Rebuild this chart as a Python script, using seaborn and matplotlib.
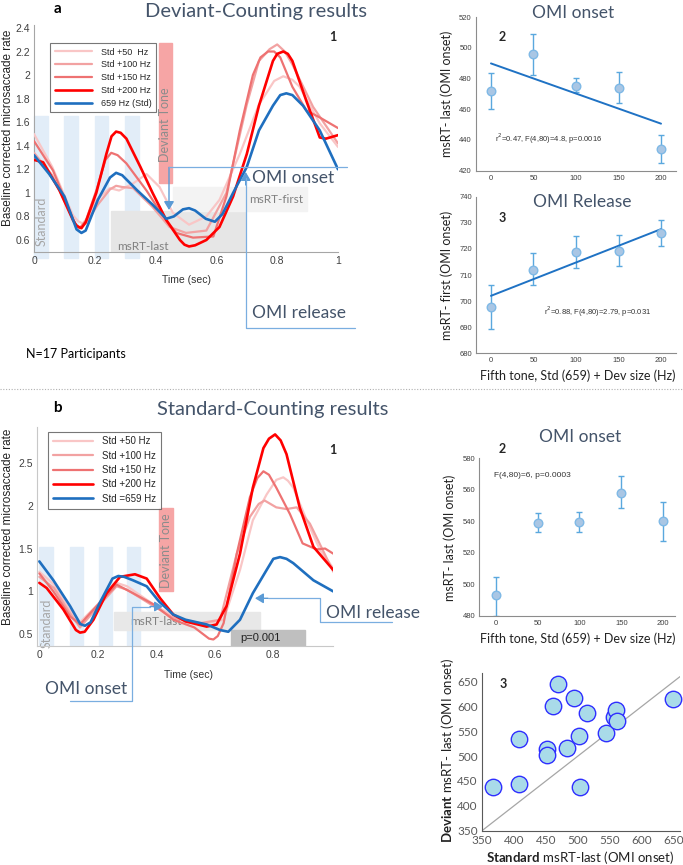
import numpy as np
import pandas as pd
import matplotlib
matplotlib.use("Agg")
import matplotlib.pyplot as plt
import seaborn as sns
from matplotlib.lines import Line2D
from matplotlib.patches import Rectangle
from matplotlib.ticker import FormatStrFormatter

# ---------------- data ----------------
conditions = ["Std +50  Hz", "Std +100 Hz", "Std +150 Hz", "Std +200 Hz", "659 Hz (Std)"]
conditions_b = ["Std +50 Hz", "Std +100 Hz", "Std +150 Hz", "Std +200 Hz", "Std =659 Hz"]

# Panel a1 - Deviant counting, baseline-corrected microsaccade rate
a_std50_t = [0, 0.06, 0.128, 0.145, 0.16, 0.18, 0.205, 0.25, 0.28, 0.326, 0.37, 0.413, 0.457, 0.51, 0.567, 0.61, 0.677, 0.74, 0.79, 0.82, 0.85, 0.874, 0.94, 1.0]
a_std50_y = [1.50, 1.22, 0.81, 0.76, 0.74, 0.80, 0.94, 1.04, 1.02, 1.08, 1.16, 1.05, 0.83, 0.73, 0.80, 0.94, 1.33, 1.75, 1.95, 1.99, 1.96, 1.90, 1.59, 1.39]
a_std100_t = [0, 0.06, 0.135, 0.15, 0.17, 0.21, 0.25, 0.27, 0.29, 0.326, 0.39, 0.446, 0.5, 0.567, 0.633, 0.70, 0.74, 0.775, 0.80, 0.825, 0.85, 0.918, 1.0]
a_std100_y = [1.34, 1.15, 0.74, 0.70, 0.74, 0.90, 1.03, 1.06, 1.05, 1.04, 0.88, 0.71, 0.66, 0.68, 1.0, 1.75, 2.12, 2.22, 2.26, 2.2, 2.09, 1.73, 1.42]
a_std150_t = [0, 0.0625, 0.117, 0.135, 0.15, 0.17, 0.205, 0.235, 0.254, 0.275, 0.304, 0.37, 0.425, 0.468, 0.523, 0.59, 0.633, 0.677, 0.72, 0.745, 0.77, 0.79, 0.81, 0.85, 0.896, 0.94, 1.0]
a_std150_y = [1.44, 1.19, 0.85, 0.74, 0.70, 0.76, 1.02, 1.28, 1.34, 1.32, 1.25, 1.02, 0.80, 0.66, 0.62, 0.63, 0.97, 1.53, 2.0, 2.15, 2.2, 2.2, 2.15, 1.9, 1.70, 1.64, 1.55]
a_std200_t = [0, 0.03, 0.084, 0.128, 0.14, 0.156, 0.17, 0.205, 0.238, 0.255, 0.27, 0.285, 0.304, 0.35, 0.39, 0.435, 0.48, 0.495, 0.51, 0.53, 0.567, 0.61, 0.655, 0.70, 0.74, 0.786, 0.80, 0.82, 0.835, 0.85, 0.896, 0.94, 0.96, 1.0]
a_std200_y = [1.28, 1.26, 1.02, 0.77, 0.72, 0.70, 0.75, 1.0, 1.33, 1.48, 1.52, 1.51, 1.46, 1.22, 1.0, 0.77, 0.60, 0.56, 0.545, 0.555, 0.60, 0.71, 0.97, 1.33, 1.74, 2.12, 2.18, 2.2, 2.18, 2.12, 1.78, 1.47, 1.46, 1.49]
a_std_t = [0, 0.05, 0.10, 0.14, 0.156, 0.17, 0.21, 0.25, 0.27, 0.29, 0.34, 0.39, 0.435, 0.46, 0.49, 0.51, 0.53, 0.565, 0.595, 0.62, 0.655, 0.70, 0.74, 0.786, 0.81, 0.83, 0.85, 0.885, 0.94, 1.0]
a_std_y = [1.32, 1.16, 0.97, 0.69, 0.66, 0.68, 0.94, 1.13, 1.17, 1.15, 1.02, 0.90, 0.78, 0.80, 0.86, 0.87, 0.85, 0.78, 0.755, 0.82, 1.0, 1.22, 1.53, 1.74, 1.83, 1.845, 1.83, 1.74, 1.53, 1.2]

# Panel b1 - Standard counting
b_std50_t = [0, 0.05, 0.10, 0.139, 0.2, 0.264, 0.30, 0.39, 0.458, 0.55, 0.63, 0.686, 0.73, 0.777, 0.81, 0.834, 0.85, 0.868, 0.914, 0.96, 1.005]
b_std50_y = [1.23, 1.08, 0.80, 0.64, 0.85, 1.10, 1.06, 0.85, 0.71, 0.615, 0.67, 1.25, 1.83, 2.13, 2.30, 2.33, 2.29, 2.21, 1.83, 1.48, 1.27]
b_std100_t = [0, 0.05, 0.10, 0.139, 0.2, 0.264, 0.30, 0.39, 0.458, 0.55, 0.618, 0.675, 0.72, 0.75, 0.77, 0.79, 0.81, 0.845, 0.88, 0.925, 1.005]
b_std100_y = [1.17, 1.04, 0.77, 0.58, 0.82, 1.06, 1.02, 0.83, 0.69, 0.63, 0.67, 1.44, 1.87, 2.02, 2.06, 2.02, 1.98, 1.96, 1.98, 1.79, 1.23]
b_std150_t = [0, 0.048, 0.105, 0.139, 0.196, 0.264, 0.32, 0.39, 0.458, 0.53, 0.58, 0.595, 0.61, 0.63, 0.675, 0.72, 0.745, 0.766, 0.785, 0.81, 0.857, 0.90, 0.948, 0.977, 1.005]
b_std150_y = [1.21, 1.0, 0.71, 0.615, 0.83, 1.08, 0.98, 0.85, 0.67, 0.58, 0.45, 0.44, 0.48, 0.63, 1.44, 2.1, 2.32, 2.40, 2.36, 2.21, 1.90, 1.56, 1.49, 1.5, 1.44]
b_std200_t = [0, 0.025, 0.082, 0.125, 0.139, 0.155, 0.185, 0.23, 0.276, 0.327, 0.367, 0.413, 0.458, 0.50, 0.572, 0.606, 0.64, 0.686, 0.73, 0.766, 0.785, 0.806, 0.825, 0.845, 0.89, 0.937, 1.005]
b_std200_y = [1.10, 1.04, 0.79, 0.55, 0.52, 0.53, 0.67, 0.98, 1.17, 1.20, 1.15, 0.92, 0.73, 0.65, 0.59, 0.615, 0.83, 1.44, 2.21, 2.67, 2.78, 2.83, 2.76, 2.60, 1.98, 1.52, 1.25]
b_std_t = [0, 0.048, 0.105, 0.14, 0.156, 0.175, 0.207, 0.25, 0.27, 0.29, 0.32, 0.367, 0.41, 0.458, 0.50, 0.572, 0.618, 0.646, 0.686, 0.73, 0.777, 0.80, 0.823, 0.845, 0.868, 0.937, 1.005]
b_std_y = [1.35, 1.13, 0.83, 0.62, 0.60, 0.64, 0.87, 1.15, 1.18, 1.17, 1.13, 1.06, 0.88, 0.73, 0.67, 0.615, 0.55, 0.53, 0.67, 0.98, 1.25, 1.38, 1.40, 1.38, 1.33, 1.13, 1.0]

# tone timing (sec)
std_tone_onsets_a = [0.0, 0.10, 0.20, 0.30]
std_tone_onsets_b = [0.0, 0.105, 0.205, 0.30]
tone_dur = 0.045
dev_tone_onset = 0.41

# Dev size (Hz) panels
dev_size = [0, 50, 100, 150, 200]
a2_mean = [472, 496, 475, 474, 434]
a2_low = [460, 482, 471, 464, 425]
a2_high = [483.5, 509, 480, 484, 443]
a3_mean = [697.7, 712, 719, 719.3, 726]
a3_low = [689.5, 706, 712.5, 713.3, 721]
a3_high = [706, 718.3, 725, 725.5, 731]
b2_mean = [493, 539, 539.5, 558, 540.5]
b2_low = [480, 533, 533.5, 548.5, 527.5]
b2_high = [505, 545, 546, 568.5, 552.5]

# Panel b3 - per participant OMI onset
standard_msrt = [366.7, 407.4, 407.9, 461, 469.5, 494.5, 513.8, 451.2, 451.7, 483, 501.3, 502.8, 544.6, 557.1, 559.7, 561.3, 649.4]
deviant_msrt = [437.2, 534.6, 444, 601, 645, 617.8, 586, 513.8, 501.7, 515.8, 540.6, 438, 547.3, 579.5, 593, 570.8, 615.1]

# ---------------- style ----------------
W, H = 683, 865
sns.set_theme(style="white")
plt.rcParams["font.family"] = ["Liberation Sans", "DejaVu Sans"]
plt.rcParams["mathtext.fontset"] = "custom"
plt.rcParams["mathtext.rm"] = "Lato"
plt.rcParams["mathtext.bf"] = "Lato:bold"

line_colors = ["#f9c6c6", "#f2a2a2", "#ee7272", "#ff0000", "#1f6fbf"]
line_widths = [1.6, 1.6, 1.6, 1.9, 1.9]
title_col = "#44546a"
ann_col = "#7aaee0"
arrow_col = "#5b9bd5"
TICK_COL = "#404040"
CAL = ["Lato", "DejaVu Sans"]

fig = plt.figure(figsize=(W / 100, H / 100), dpi=100)
fig.patch.set_facecolor("white")


def add_ax(l, t, r, b):
    ax = fig.add_axes([l / W, 1 - b / H, (r - l) / W, (b - t) / H])
    ax.set_facecolor("white")
    return ax


def fp(x, y):
    return (x / W, 1 - y / H)


def ftext(x, y, s, **kw):
    fig.text(x / W, 1 - y / H, s, **kw)


def fline(xs, ys, **kw):
    fig.add_artist(Line2D([x / W for x in xs], [1 - y / H for y in ys], **kw))


def farrow(x0, y0, x1, y1):
    fig.add_artist(matplotlib.patches.FancyArrowPatch(
        fp(x0, y0), fp(x1, y1), transform=fig.transFigure,
        arrowstyle="-|>,head_length=5,head_width=3", color=arrow_col,
        lw=1.0, shrinkA=0, shrinkB=0))


def style_axes(ax, spine_col="#a6a6a6", size=7.5):
    for s in ["top", "right"]:
        ax.spines[s].set_visible(False)
    for s in ["left", "bottom"]:
        ax.spines[s].set_color(spine_col)
        ax.spines[s].set_linewidth(0.8)
    ax.tick_params(direction="in", length=3, width=0.6, colors=spine_col,
                   labelcolor=TICK_COL, labelsize=size, pad=3)


def set_label_px(ax, box, which, px, py):
    l, t, r, b = box
    xc = (px - l) / (r - l)
    yc = (b - py) / (b - t)
    if which == "x":
        ax.xaxis.set_label_coords(xc, yc)
    else:
        ax.yaxis.set_label_coords(xc, yc)


def draw_curves(ax, series, labels):
    for (t, y), lab, c, lw in zip(series, labels, line_colors, line_widths):
        df = pd.DataFrame({"time": t, "rate": y})
        sns.lineplot(data=df, x="time", y="rate", color=c, lw=lw, label=lab,
                     ax=ax, sort=False, zorder=3, solid_joinstyle="round",
                     solid_capstyle="round")


# ================= Panel a1 =================
box_a1 = (34, 25, 338, 252)
ax = add_ax(*box_a1)
ax.set_xlim(0, 1)
ax.set_ylim(0.498, 2.425)
for on in std_tone_onsets_a:
    ax.add_patch(Rectangle((on, 0.45), tone_dur, 1.65 - 0.45, color="#e2edf8", zorder=0, clip_on=False))
ax.add_patch(Rectangle((0.253, 0.498), 0.695 - 0.253, 0.85 - 0.498, color="#e6e6e6", zorder=0.5))
ax.add_patch(Rectangle((0.458, 0.85), 0.898 - 0.458, 1.053 - 0.85, color="#f3f3f3", zorder=0.5))
ax.add_patch(Rectangle((dev_tone_onset, 1.087), tone_dur, 2.27 - 1.087, color="#f6a5a5", zorder=1))
ax.text(0.432, 1.58, "Deviant Tone", rotation=90, ha="center", va="center", fontsize=9, color="#8c8c8c", family=CAL, zorder=2)
ax.text(0.024, 0.755, "Standard", rotation=90, ha="center", va="center", fontsize=9, color="#a6a6a6", family=CAL, zorder=2)
ax.text(0.357, 0.545, "msRT-last", ha="center", va="center", fontsize=8.5, color="#808080", family=CAL, zorder=2)
ax.text(0.798, 0.94, "msRT-first", ha="center", va="center", fontsize=8.5, color="#808080", family=CAL, zorder=2)
draw_curves(ax, [(a_std50_t, a_std50_y), (a_std100_t, a_std100_y), (a_std150_t, a_std150_y),
                 (a_std200_t, a_std200_y), (a_std_t, a_std_y)], conditions)
style_axes(ax, size=7.5)
ax.set_xticks([0, 0.2, 0.4, 0.6, 0.8, 1])
ax.set_yticks(np.arange(0.6, 2.41, 0.2))
ax.xaxis.set_major_formatter(FormatStrFormatter("%g"))
ax.yaxis.set_major_formatter(matplotlib.ticker.FuncFormatter(lambda v, p: f"{round(v, 1):g}"))
ax.set_xlabel("Time (sec)", fontsize=7.5, color="#333333", va="center")
ax.set_ylabel("Baseline corrected microsaccade rate", fontsize=8.5, color="#222222", va="center")
set_label_px(ax, box_a1, "x", 186, 280)
set_label_px(ax, box_a1, "y", 8, 128)
leg = ax.legend(loc="upper left", bbox_to_anchor=((50 - 34) / 304, (252 - 43) / 227),
                fontsize=6.5, frameon=True, fancybox=False, handlelength=4.2,
                labelspacing=0.42, borderpad=0.5, handletextpad=0.9, borderaxespad=0)
leg.get_frame().set_edgecolor("#555555")
leg.get_frame().set_linewidth(0.8)
leg.set_zorder(5)

# annotations panel a
fline([169, 347], [167.3, 167.3], color=ann_col, lw=0.9)
farrow(169, 167.3, 169, 210)
fline([245.7, 245.7, 355], [178, 328, 328], color=ann_col, lw=0.9)
farrow(245.7, 185, 245.7, 172)
ftext(252, 178, "OMI onset", fontsize=12.5, color=title_col, family=CAL, va="center", ha="left")
ftext(252, 313, "OMI release", fontsize=12.5, color=title_col, family=CAL, va="center", ha="left")
ftext(57, 9, "a", fontsize=11, weight="bold", family=CAL, va="center", ha="center", color="black")
ftext(256, 12, "Deviant-Counting results", fontsize=14.5, color=title_col, family=CAL, va="center", ha="center")
ftext(333, 37, "1", fontsize=9, weight="bold", family=CAL, va="center", ha="center")
ftext(26, 354, "N=17 Participants", fontsize=9, family=CAL, va="center", ha="left", color="black")


def dev_panel(box, mean, low, high, ylim, yticks, xlim, ylabel, reg=True):
    ax = add_ax(*box)
    ax.set_xlim(*xlim)
    ax.set_ylim(*ylim)
    m = np.array(mean)
    yerr = [m - np.array(low), np.array(high) - m]
    ax.errorbar(dev_size, mean, yerr=yerr, fmt="none", ecolor="#5aa8de", elinewidth=1.0,
                capsize=2.5, capthick=1.0, zorder=2)
    if reg:
        sns.regplot(x=np.array(dev_size, float), y=m, ci=None, scatter=False, truncate=True,
                    ax=ax, line_kws=dict(color="#1f72c4", lw=1.4, zorder=3))
    sns.scatterplot(x=dev_size, y=mean, s=38, color="#a9c6e4", edgecolor="#7fb9e6",
                    linewidth=1.0, ax=ax, zorder=4)
    style_axes(ax, spine_col="#8c8c8c", size=5.5)
    ax.set_xticks(dev_size)
    ax.set_yticks(yticks)
    ax.set_ylabel(ylabel, fontsize=9, color="#222222", family=CAL, va="center")
    ax.set_xlabel("")
    return ax


# ================= Panel a2 =================
box_a2 = (476, 17, 676, 170.7)
ax = dev_panel(box_a2, a2_mean, a2_low, a2_high, (420, 520), np.arange(420, 521, 20), (-17.6, 217.6),
               "msRT- last (OMI onset)")
set_label_px(ax, box_a2, "y", 447, 94)
ax.text(5, 441, "r$^2$=0.47, F(4,80)=4.8, p=0.0016", fontsize=5.5, color="#333333", va="center",
        math_fontfamily="dejavusans")
ftext(502, 37, "2", fontsize=9, weight="bold", family=CAL, va="center", ha="center")
ftext(573, 13, "OMI onset", fontsize=12.5, color=title_col, family=CAL, va="center", ha="center")

# ================= Panel a3 =================
box_a3 = (476, 196.7, 676, 353.3)
ax = dev_panel(box_a3, a3_mean, a3_low, a3_high, (680, 740), np.arange(680, 741, 10), (-17.6, 217.6),
               "msRT- first (OMI onset)")
set_label_px(ax, box_a3, "y", 447, 275)
ax.set_xlabel("Fifth tone, Std (659) + Dev size (Hz)", fontsize=9, color="#222222", family=CAL, va="center")
set_label_px(ax, box_a3, "x", 578, 376)
ax.text(62, 696, "r$^2$=0.88, F(4,80)=2.79, p=0.031", fontsize=5.5, color="#333333", va="center",
        math_fontfamily="dejavusans")
ftext(502, 218, "3", fontsize=9, weight="bold", family=CAL, va="center", ha="center")
ftext(582, 202, "OMI Release", fontsize=12.5, color=title_col, family=CAL, va="center", ha="center")

# separator
fline([0, W], [389, 389], color="#b0b0b0", lw=0.8, ls=(0, (1, 1.5)))

# ================= Panel b1 =================
box_b1 = (37.3, 426.7, 333.3, 646)
ax = add_ax(*box_b1)
ax.set_xlim(-0.007, 1.005)
ax.set_ylim(0.364, 2.92)
for on in std_tone_onsets_b:
    ax.add_patch(Rectangle((on, 0.364), tone_dur, 1.52 - 0.364, color="#e2edf8", zorder=0))
ax.add_patch(Rectangle((0.256, 0.55), 0.754 - 0.256, 0.76 - 0.55, color="#e8e8e8", zorder=0.5))
ax.add_patch(Rectangle((0.654, 0.364), 0.908 - 0.654, 0.546 - 0.364, color="#bfbfbf", zorder=0.5))
ax.add_patch(Rectangle((dev_tone_onset, 1.0), 0.046, 1.97 - 1.0, color="#f6a5a5", zorder=1))
ax.text(0.433, 1.48, "Deviant Tone", rotation=90, ha="center", va="center", fontsize=9, color="#8c8c8c", family=CAL, zorder=2)
ax.text(0.026, 0.63, "Standard", rotation=90, ha="center", va="center", fontsize=9, color="#a6a6a6", family=CAL, zorder=2)
ax.text(0.40, 0.655, "msRT-last", ha="center", va="center", fontsize=8.5, color="#808080", family=CAL, zorder=2)
ax.text(0.755, 0.453, "p=0.001", ha="center", va="center", fontsize=8, color="#222222", zorder=2)
draw_curves(ax, [(b_std50_t, b_std50_y), (b_std100_t, b_std100_y), (b_std150_t, b_std150_y),
                 (b_std200_t, b_std200_y), (b_std_t, b_std_y)], conditions_b)
style_axes(ax, spine_col="#c8c8c8", size=7.5)
ax.set_xticks([0, 0.2, 0.4, 0.6, 0.8])
ax.set_yticks([0.5, 1, 1.5, 2, 2.5])
ax.xaxis.set_major_formatter(FormatStrFormatter("%g"))
ax.yaxis.set_major_formatter(FormatStrFormatter("%g"))
ax.set_xlabel("Time (sec)", fontsize=7.5, color="#333333", va="center")
ax.set_ylabel("Baseline corrected microsaccade rate", fontsize=8.5, color="#222222", va="center")
set_label_px(ax, box_b1, "x", 188, 675)
set_label_px(ax, box_b1, "y", 8, 527)
leg = ax.legend(loc="upper left", bbox_to_anchor=((47.7 - 37.3) / 296, (646 - 431.5) / 219.3),
                fontsize=7, frameon=True, fancybox=False, handlelength=4.2,
                labelspacing=0.45, borderpad=0.5, handletextpad=0.9, borderaxespad=0)
leg.get_frame().set_edgecolor("#555555")
leg.get_frame().set_linewidth(0.8)
leg.set_zorder(5)

# annotations panel b
fline([70, 131.7, 131.7, 150], [701, 701, 606.5, 606.5], color=ann_col, lw=0.9)
farrow(150, 606.5, 163, 606.5)
ftext(45, 689, "OMI onset", fontsize=12.5, color=title_col, family=CAL, va="center", ha="left")
fline([268, 320, 320, 392], [598.3, 598.3, 621.7, 621.7], color=ann_col, lw=0.9)
farrow(268, 598.3, 255, 598.3)
ftext(326, 613, "OMI release", fontsize=12.5, color=title_col, family=CAL, va="center", ha="left")
ftext(57, 408, "b", fontsize=11, weight="bold", family=CAL, va="center", ha="center", color="black")
ftext(273, 410, "Standard-Counting results", fontsize=14.5, color=title_col, family=CAL, va="center", ha="center")
ftext(333, 450, "1", fontsize=9, weight="bold", family=CAL, va="center", ha="center")

# ================= Panel b2 =================
box_b2 = (479.3, 458.3, 675, 616)
ax = dev_panel(box_b2, b2_mean, b2_low, b2_high, (480, 580), np.arange(480, 581, 20), (-19.6, 214),
               "msRT- last (OMI onset)", reg=False)
set_label_px(ax, box_b2, "y", 450, 538)
ax.set_xlabel("Fifth tone, Std (659) + Dev size (Hz)", fontsize=9, color="#222222", family=CAL, va="center")
set_label_px(ax, box_b2, "x", 578, 639)
ax.text(-2, 569, "F(4,80)=6, p=0.0003", fontsize=6, color="#333333", va="center")
ftext(502, 449, "2", fontsize=9, weight="bold", family=CAL, va="center", ha="center")
ftext(580, 437, "OMI onset", fontsize=12.5, color=title_col, family=CAL, va="center", ha="center")

# ================= Panel b3 =================
box_b3 = (482, 673.3, 680, 830.7)
ax = add_ax(*box_b3)
ax.set_xlim(350, 660)
ax.set_ylim(350, 666.7)
ax.axline((350, 350), slope=1, color="#a6a6a6", lw=0.9, zorder=1)
sns.scatterplot(x=standard_msrt, y=deviant_msrt, s=140, color="#a9dbe9", edgecolor="#2f2fff",
                linewidth=1.0, ax=ax, zorder=3, clip_on=False)
style_axes(ax, spine_col="#595959", size=8.5)
ax.tick_params(labelcolor="#595959")
ax.set_xticks(np.arange(350, 651, 50))
ax.set_yticks(np.arange(350, 651, 50))
for lab in ax.get_xticklabels() + ax.get_yticklabels():
    lab.set_family(CAL)
ax.set_xlabel(r"$\mathbf{Standard}$ msRT-last (OMI onset)", fontsize=9.5, color="#222222", family=CAL, va="center")
ax.set_ylabel(r"$\mathbf{Deviant}$ msRT- last (OMI onset)", fontsize=9.5, color="#222222", family=CAL, va="center")
set_label_px(ax, box_b3, "x", 580, 858)
set_label_px(ax, box_b3, "y", 448, 750)
ftext(503, 684, "3", fontsize=9, weight="bold", family=CAL, va="center", ha="center")

fig.savefig("out.png", dpi=100, facecolor="white")
